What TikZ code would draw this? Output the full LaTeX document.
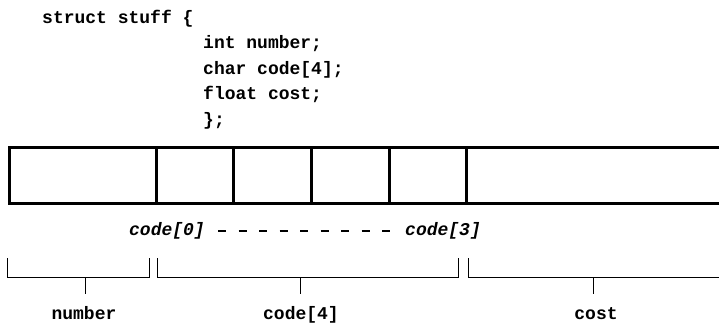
\documentclass[tikz,border=0pt]{standalone}
\usepackage{fontspec}
\setmonofont{Liberation Mono}
\usetikzlibrary{positioning}

\begin{document}
\begin{tikzpicture}[
        x=1pt, y=-1pt,
        code/.style={anchor=base west, inner sep=0pt, font=\fontsize{18}{18}\selectfont\ttfamily\bfseries},
        idx/.style={anchor=base, inner sep=0pt, font=\fontsize{18}{18}\selectfont\ttfamily\bfseries\itshape},
        field/.style={anchor=base, inner sep=0pt, font=\fontsize{18}{18}\selectfont\ttfamily\bfseries},
        cell/.style={line width=3pt},
        brace/.style={line width=1pt}
    ]
    \useasboundingbox (0,0) rectangle (719,322);

    % declaration
    \node[code] (decl) at (42,23) {struct stuff \{};
    \node[code] (mnum) at (203,48) {int number;};
    \node[code] (mcode) at (203,74) {char code[4];};
    \node[code] (mcost) at (203,99) {float cost;};
    \node[code] (close) at (203,125) {\};};

    % memory layout
    \draw[cell] (719,147.5) -- (9.5,147.5) -- (9.5,203.5) -- (719,203.5);
    \foreach \x in {156.5, 233.5, 311, 389, 466.5}
        \draw[cell] (\x,147.5) -- (\x,203.5);

    % array elements
    \node[idx] (c0) at (167,235) {code[0]};
    \node[idx] (c3) at (443,235) {code[3]};
    \draw[line width=1.5pt, dash pattern=on 8pt off 12.5pt, shorten <=13.2pt, shorten >=15.2pt] (c0.east |- 0,231) -- (c3.west |- 0,231);

    % brackets
    \draw[brace] (7,258) -- (7,277) -- (149,277) -- (149,258);
    \draw[brace] (157,258) -- (157,277) -- (458,277) -- (458,258);
    \draw[brace] (468,258) -- (468,277) -- (719,277);
    \node[field] (fnum) at (84,319) {number};
    \node[field] (fcode) at (301,319) {code[4]};
    \node[field] (fcost) at (596,319) {cost};
    \draw[brace] (85,277) -- (85,294);
    \draw[brace] (300,277) -- (300,294);
    \draw[brace] (593,277) -- (593,294);
\end{tikzpicture}
\end{document}
